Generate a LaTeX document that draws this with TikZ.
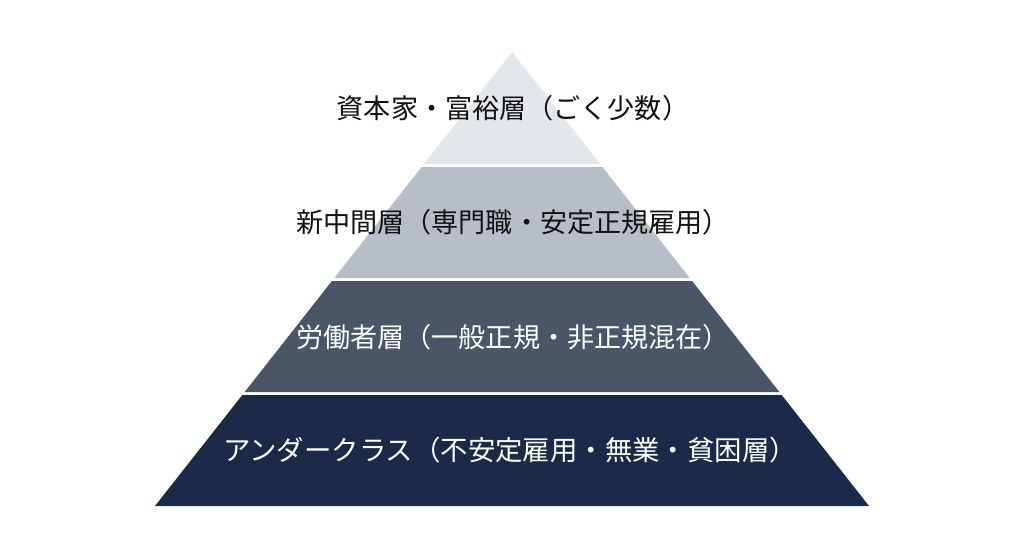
\documentclass[tikz,border=0pt]{standalone}
\usepackage{fontspec}
\newfontfamily\jpfont{Noto Sans CJK JP}
\definecolor{layA}{HTML}{E3E6EB}
\definecolor{layB}{HTML}{B8BEC8}
\definecolor{layC}{HTML}{4A5568}
\definecolor{layD}{HTML}{1B2A48}
\definecolor{txtDark}{HTML}{111111}
\begin{document}
\begin{tikzpicture}[x=1pt,y=-1pt,
  lbl/.style={inner sep=0pt,font=\jpfont\fontsize{27.1}{32}\selectfont},
  lblwide/.style={inner sep=0pt,font=\jpfont\fontsize{27.4}{32}\selectfont}]
\useasboundingbox[fill=white] (0,0) rectangle (1024,559);
\fill[layA] (512,52) -- (600.07,164) -- (423.93,164) -- cycle;
\fill[layB] (421.57,167) -- (602.43,167) -- (689.7,278) -- (334.3,278) -- cycle;
\fill[layC] (331.93,281) -- (692.07,281) -- (779.35,392) -- (244.65,392) -- cycle;
\fill[layD] (242.3,395) -- (781.7,395) -- (869,506) -- (155,506) -- cycle;
\node[lbl,text=txtDark] (t1) at (513,108) {資本家・富裕層（ごく少数）};
\node[lbl,text=txtDark] (t2) at (513,222) {新中間層（専門職・安定正規雇用）};
\node[lbl,text=white] (t3) at (513,337) {労働者層（一般正規・非正規混在）};
\node[lblwide,text=white] (t4) at (510,450) {アンダークラス（不安定雇用・無業・貧困層）};
\end{tikzpicture}
\end{document}
